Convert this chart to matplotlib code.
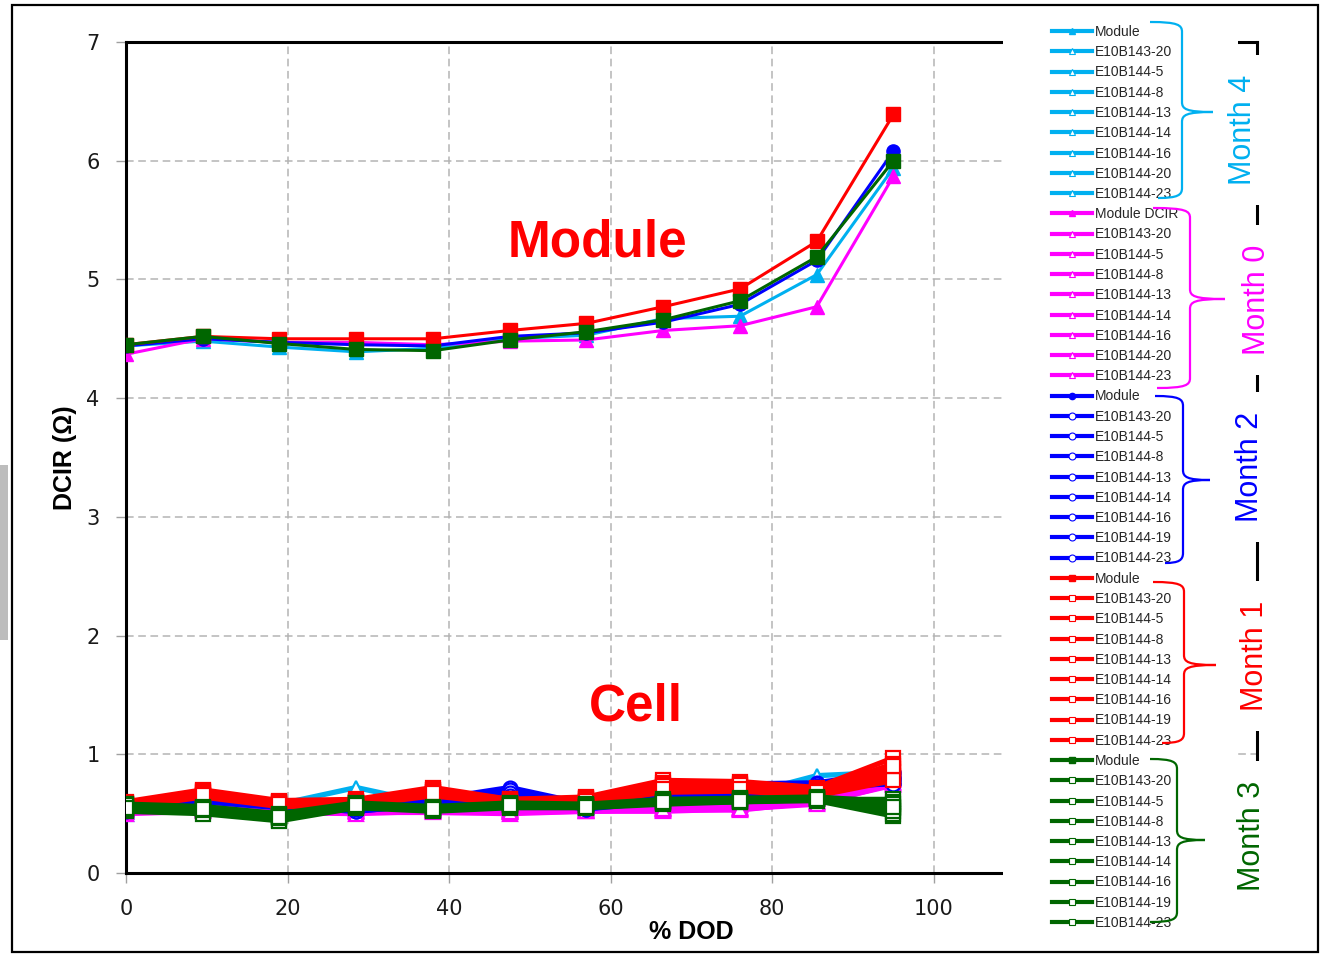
import matplotlib
matplotlib.use("Agg")
import matplotlib.pyplot as plt
from matplotlib.lines import Line2D
from matplotlib.patches import Rectangle, PathPatch
from matplotlib.path import Path

# % DOD points
dod = [0, 9.5, 19, 28.5, 38, 47.5, 57, 66.5, 76, 85.5, 95]

# Module DCIR per month
mod_m4 = [4.44, 4.48, 4.43, 4.39, 4.42, 4.50, 4.53, 4.67, 4.69, 5.04, 5.94]
mod_m0 = [4.37, 4.50, 4.47, 4.47, 4.45, 4.48, 4.49, 4.57, 4.61, 4.77, 5.87]
mod_m2 = [4.44, 4.50, 4.47, 4.45, 4.44, 4.52, 4.55, 4.64, 4.79, 5.16, 6.08]
mod_m1 = [4.45, 4.52, 4.50, 4.50, 4.50, 4.57, 4.63, 4.77, 4.92, 5.32, 6.39]
mod_m3 = [4.45, 4.52, 4.46, 4.41, 4.40, 4.49, 4.56, 4.66, 4.82, 5.19, 6.00]

# Cell DCIR per month (8 cells each)
cells_m4 = [
    [0.50, 0.60, 0.58, 0.72, 0.58, 0.58, 0.57, 0.62, 0.65, 0.82, 0.85],
    [0.52, 0.58, 0.56, 0.60, 0.57, 0.57, 0.56, 0.60, 0.63, 0.75, 0.83],
    [0.55, 0.60, 0.58, 0.58, 0.58, 0.58, 0.58, 0.62, 0.64, 0.72, 0.84],
    [0.54, 0.59, 0.57, 0.57, 0.57, 0.56, 0.57, 0.61, 0.63, 0.70, 0.82],
    [0.53, 0.58, 0.55, 0.56, 0.56, 0.56, 0.56, 0.60, 0.62, 0.70, 0.80],
    [0.56, 0.61, 0.59, 0.59, 0.59, 0.58, 0.58, 0.63, 0.65, 0.74, 0.86],
    [0.51, 0.57, 0.55, 0.55, 0.55, 0.55, 0.55, 0.59, 0.61, 0.69, 0.81],
    [0.54, 0.59, 0.57, 0.58, 0.57, 0.57, 0.57, 0.61, 0.63, 0.72, 0.83],
]
cells_m0 = [
    [0.55, 0.58, 0.55, 0.52, 0.53, 0.52, 0.52, 0.54, 0.55, 0.60, 0.78],
    [0.52, 0.54, 0.53, 0.53, 0.52, 0.51, 0.53, 0.55, 0.56, 0.62, 0.80],
    [0.57, 0.60, 0.56, 0.55, 0.55, 0.53, 0.54, 0.56, 0.58, 0.63, 0.76],
    [0.50, 0.52, 0.50, 0.51, 0.51, 0.50, 0.52, 0.52, 0.54, 0.59, 0.74],
    [0.54, 0.57, 0.54, 0.54, 0.54, 0.53, 0.55, 0.55, 0.55, 0.61, 0.79],
    [0.56, 0.59, 0.57, 0.56, 0.56, 0.54, 0.56, 0.57, 0.57, 0.64, 0.82],
    [0.53, 0.55, 0.52, 0.52, 0.53, 0.52, 0.53, 0.53, 0.53, 0.60, 0.77],
    [0.51, 0.53, 0.51, 0.50, 0.52, 0.51, 0.52, 0.54, 0.54, 0.58, 0.75],
]
cells_m2 = [
    [0.55, 0.68, 0.58, 0.55, 0.62, 0.72, 0.58, 0.70, 0.75, 0.76, 0.85],
    [0.52, 0.62, 0.56, 0.52, 0.58, 0.66, 0.55, 0.62, 0.70, 0.72, 0.80],
    [0.57, 0.65, 0.60, 0.56, 0.62, 0.68, 0.57, 0.66, 0.72, 0.74, 0.82],
    [0.54, 0.60, 0.55, 0.53, 0.57, 0.62, 0.54, 0.60, 0.66, 0.70, 0.76],
    [0.56, 0.66, 0.58, 0.55, 0.60, 0.70, 0.56, 0.68, 0.74, 0.75, 0.84],
    [0.53, 0.62, 0.56, 0.52, 0.58, 0.64, 0.54, 0.62, 0.68, 0.71, 0.78],
    [0.58, 0.64, 0.59, 0.56, 0.61, 0.67, 0.57, 0.64, 0.70, 0.73, 0.75],
    [0.55, 0.63, 0.57, 0.54, 0.59, 0.65, 0.55, 0.63, 0.69, 0.72, 0.80],
]
cells_m1 = [
    [0.60, 0.70, 0.61, 0.62, 0.72, 0.62, 0.64, 0.78, 0.77, 0.72, 0.97],
    [0.58, 0.68, 0.60, 0.60, 0.70, 0.61, 0.62, 0.76, 0.75, 0.70, 0.92],
    [0.57, 0.66, 0.58, 0.59, 0.68, 0.60, 0.61, 0.74, 0.73, 0.68, 0.88],
    [0.59, 0.69, 0.60, 0.61, 0.70, 0.62, 0.63, 0.72, 0.72, 0.67, 0.85],
    [0.56, 0.65, 0.57, 0.58, 0.66, 0.59, 0.60, 0.70, 0.70, 0.66, 0.82],
    [0.58, 0.67, 0.59, 0.60, 0.68, 0.61, 0.62, 0.73, 0.74, 0.69, 0.80],
    [0.55, 0.64, 0.56, 0.57, 0.65, 0.58, 0.59, 0.68, 0.69, 0.65, 0.78],
    [0.57, 0.66, 0.58, 0.59, 0.67, 0.60, 0.61, 0.71, 0.71, 0.68, 0.90],
]
cells_m3 = [
    [0.55, 0.55, 0.47, 0.58, 0.55, 0.58, 0.57, 0.61, 0.62, 0.62, 0.62],
    [0.53, 0.52, 0.45, 0.56, 0.53, 0.56, 0.56, 0.59, 0.60, 0.62, 0.55],
    [0.58, 0.56, 0.50, 0.59, 0.56, 0.59, 0.58, 0.62, 0.63, 0.64, 0.60],
    [0.52, 0.50, 0.44, 0.55, 0.52, 0.55, 0.55, 0.58, 0.60, 0.61, 0.48],
    [0.56, 0.54, 0.48, 0.57, 0.54, 0.57, 0.57, 0.60, 0.61, 0.63, 0.58],
    [0.54, 0.53, 0.46, 0.56, 0.53, 0.56, 0.56, 0.59, 0.61, 0.62, 0.50],
    [0.57, 0.55, 0.49, 0.58, 0.55, 0.58, 0.57, 0.61, 0.62, 0.63, 0.52],
    [0.55, 0.54, 0.47, 0.57, 0.54, 0.57, 0.56, 0.60, 0.61, 0.62, 0.56],
]

cells_a = ['E10B143-20', 'E10B144-5', 'E10B144-8', 'E10B144-13',
           'E10B144-14', 'E10B144-16', 'E10B144-20', 'E10B144-23']
cells_b = ['E10B143-20', 'E10B144-5', 'E10B144-8', 'E10B144-13',
           'E10B144-14', 'E10B144-16', 'E10B144-19', 'E10B144-23']

# month, colour, marker, module label, module data, cell data, cell names
groups = [
    ('Month 4', '#00B0F0', '^', 'Module', mod_m4, cells_m4, cells_a),
    ('Month 0', '#FF00FF', '^', 'Module DCIR', mod_m0, cells_m0, cells_a),
    ('Month 2', '#0000FF', 'o', 'Module', mod_m2, cells_m2, cells_b),
    ('Month 1', '#FF0000', 's', 'Module', mod_m1, cells_m1, cells_b),
    ('Month 3', '#006600', 's', 'Module', mod_m3, cells_m3, cells_b),
]

W, H = 1320, 955
fig = plt.figure(figsize=(W / 100, H / 100), dpi=100)


def fx(px):
    return px / W


def fy(py):
    return 1 - py / H


ax = fig.add_axes([fx(126), fy(873), (1257 - 126) / W, (873 - 42) / H])

handles, labels = [], []
for month, col, mk, modlab, mod, cells, names in groups:
    for c in cells:
        ax.plot(dod, c, color=col, lw=3.8, marker=mk, ms=10, mfc='white',
                mec=col, mew=1.6, zorder=3)
    ax.plot(dod, mod, color=col, lw=2.2, marker=mk, ms=9.5, mfc=col,
            mec=col, zorder=4)
    handles.append(Line2D([], [], color=col, lw=3, marker=mk, ms=4.5, mfc=col, mec=col))
    labels.append(modlab)
    for n in names:
        handles.append(Line2D([], [], color=col, lw=3, marker=mk, ms=5,
                              mfc='white', mec=col, mew=0.8))
        labels.append(n)

ax.set_xlim(0, 140)
ax.set_ylim(0, 7)
ax.set_xticks(range(0, 141, 20))
ax.set_xticklabels(['0', '20', '40', '60', '80', '100', '', ''])
ax.set_yticks(range(0, 8))
ax.grid(True, color='#b4b4b4', ls=(0, (5, 3)), lw=1.1)
ax.set_axisbelow(True)
for s in ax.spines.values():
    s.set_linewidth(2.2)
    s.set_color('black')
ax.tick_params(axis='both', colors='#a0a0a0', length=7, width=1,
               labelsize=15, labelcolor='#1a1a1a', pad=12)
for t in ax.get_xticklabels() + ax.get_yticklabels():
    t.set_family('DejaVu Sans')

ax.set_xlabel('% DOD', fontsize=18, fontweight='bold', family='Liberation Sans')
ax.xaxis.set_label_coords(0.5, -0.056)
ax.set_ylabel('DCIR (Ω)', fontsize=18, fontweight='bold', family='Liberation Sans')
ax.yaxis.set_label_coords(-0.043, 0.5)

ax.text(58.4, 5.31, 'Module', color='#FF0000', fontsize=37, fontweight='bold',
        family='Liberation Sans', ha='center', va='center')
ax.text(63.1, 1.40, 'Cell', color='#FF0000', fontsize=37, fontweight='bold',
        family='Liberation Sans', ha='center', va='center')

# white panel behind the legend
fig.patches.append(Rectangle((fx(1003), fy(948)), fx(1238) - fx(1003), fy(8) - fy(948),
                             transform=fig.transFigure, facecolor='white',
                             edgecolor='none', zorder=2))

fig.legend(handles, labels, loc='upper left', bbox_to_anchor=(fx(1052), fy(25)),
           frameon=False, prop={'family': 'Liberation Sans', 'size': 10},
           handlelength=2.9, handletextpad=0.2, labelspacing=0.45,
           borderpad=0, borderaxespad=0, labelcolor='#262626')

# month labels
month_pos = {'Month 4': (1243, 130), 'Month 0': (1257, 300), 'Month 2': (1250, 467),
             'Month 1': (1255, 656), 'Month 3': (1252, 836)}
for month, col, *_ in groups:
    px, py = month_pos[month]
    fig.text(fx(px), fy(py), month, color=col, fontsize=22, rotation=90,
             family='Liberation Sans', ha='center', va='center', zorder=3,
             bbox=dict(facecolor='white', edgecolor='none', pad=14))


# curly braces
def brace(x0, ytop, xs, xt, ym, x1, ybot, col):
    r = 10
    verts = [(x0, ytop), (xs - 4, ytop), (xs, ytop + 3), (xs, ytop + r),
             (xs, ym - r), (xs, ym - 3), (xs + 4, ym), (xt, ym),
             (xs + 4, ym), (xs, ym + 3), (xs, ym + r),
             (xs, ybot - r), (xs, ybot - 3), (xs - 4, ybot), (x1, ybot)]
    codes = [Path.MOVETO, Path.CURVE4, Path.CURVE4, Path.CURVE4,
             Path.LINETO, Path.CURVE4, Path.CURVE4, Path.CURVE4,
             Path.CURVE4, Path.CURVE4, Path.CURVE4,
             Path.LINETO, Path.CURVE4, Path.CURVE4, Path.CURVE4]
    verts = [(fx(a), fy(b)) for a, b in verts]
    fig.patches.append(PathPatch(Path(verts, codes), transform=fig.transFigure,
                                 fill=False, edgecolor=col, lw=1.6, zorder=6))


brace(1150, 22, 1182, 1213, 112, 1158, 198, '#00B0F0')
brace(1153, 208, 1190, 1225, 299, 1157, 388, '#FF00FF')
brace(1155, 396, 1183, 1210, 480, 1165, 563, '#0000FF')
brace(1153, 582, 1184, 1216, 665, 1162, 743, '#FF0000')
brace(1150, 759, 1177, 1205, 840, 1150, 922, '#006600')

# outer frame and side shadow
fig.patches.append(Rectangle((fx(12), fy(952)), fx(1318) - fx(12), fy(5) - fy(952),
                             transform=fig.transFigure, fill=False,
                             edgecolor='black', lw=1.6, zorder=10))
fig.patches.append(Rectangle((0, fy(640)), fx(8), fy(465) - fy(640),
                             transform=fig.transFigure, facecolor='#bdbdbd',
                             edgecolor='none', zorder=10))

fig.savefig('out.png', dpi=100)
